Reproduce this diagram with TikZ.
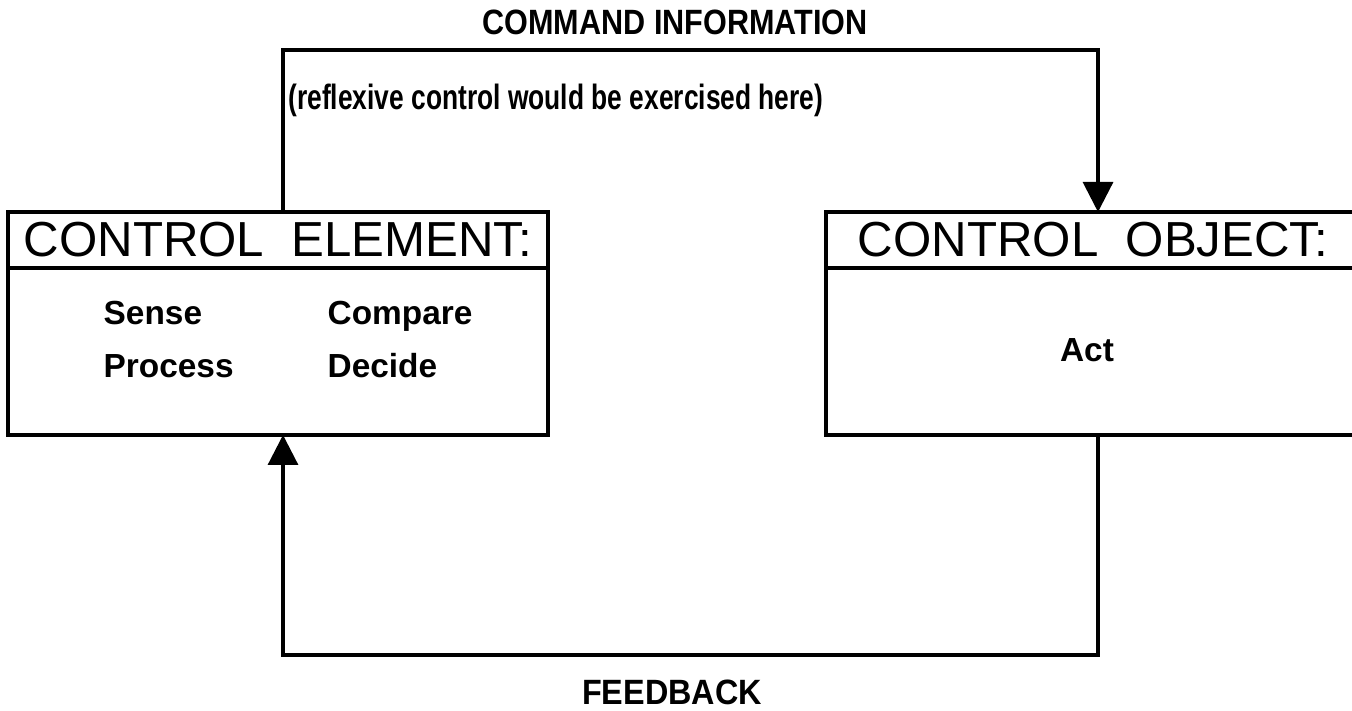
\documentclass[tikz,border=0pt]{standalone}
\usepackage{fontspec}
\setmainfont{Liberation Sans}
\usetikzlibrary{arrows.meta,positioning}

\begin{document}
\begin{tikzpicture}[
		headbox/.style={draw, line width=1.1pt, minimum height=0.56cm, inner sep=0pt, outer sep=0pt, font=\fontsize{14}{16}\selectfont},
		bodybox/.style={draw, line width=1.1pt, minimum height=1.67cm, inner sep=0pt, outer sep=0pt, anchor=north},
		item/.style={font=\bfseries\fontsize{9.5}{11}\selectfont, inner sep=0pt},
		label/.style={font=\bfseries\fontsize{10}{12}\selectfont, inner sep=0pt, transform shape},
		flow/.style={line width=0.9pt, -{Triangle[width=0.3cm, length=0.3cm]}}
	]
	\useasboundingbox (0,0) rectangle (13.52,7.11);
	\node [headbox, minimum width=5.40cm, anchor=north west] (elemhead) at (0.08,4.99) {CONTROL\ \ ELEMENT:};
	\node [bodybox, minimum width=5.40cm] (elembody) at (elemhead.south) {};
	\node [headbox, minimum width=5.34cm, anchor=north west] (objhead) at (8.26,4.99) {CONTROL\ \ OBJECT:};
	\node [bodybox, minimum width=5.34cm] (objbody) at (objhead.south) {};
	\foreach \name/\x/\y/\word in {%
			sense/1.03/3.86/Sense, compare/3.27/3.86/Compare, process/1.03/3.33/Process, decide/3.27/3.33/Decide%
	}{%
		\node [item, anchor=base west] (\name) at (\x,\y) {\word};
	}
	\node [item] (act) at (10.87,3.61) {Act};
	\coordinate (cmdleft) at (2.83,6.61);
	\coordinate (cmdright) at (10.98,6.61);
	\coordinate (fbleft) at (2.83,0.56);
	\coordinate (fbright) at (10.98,0.56);
	\draw [flow] (elemhead.north -| cmdleft) -- (cmdleft) -- (cmdright) -- (objhead.north -| cmdright);
	\draw [flow] (objbody.south -| fbright) -- (fbright) -- (fbleft) -- (elembody.south -| fbleft);
	\node [label, xscale=0.87] (cmdlabel) at (6.75,6.89) {COMMAND INFORMATION};
	\node [label, xscale=0.75, anchor=west] (reflexive) at (2.88,6.11) {(reflexive control would be exercised here)};
	\node [label, xscale=0.92] (fblabel) at (6.72,0.19) {FEEDBACK};
\end{tikzpicture}
\end{document}
